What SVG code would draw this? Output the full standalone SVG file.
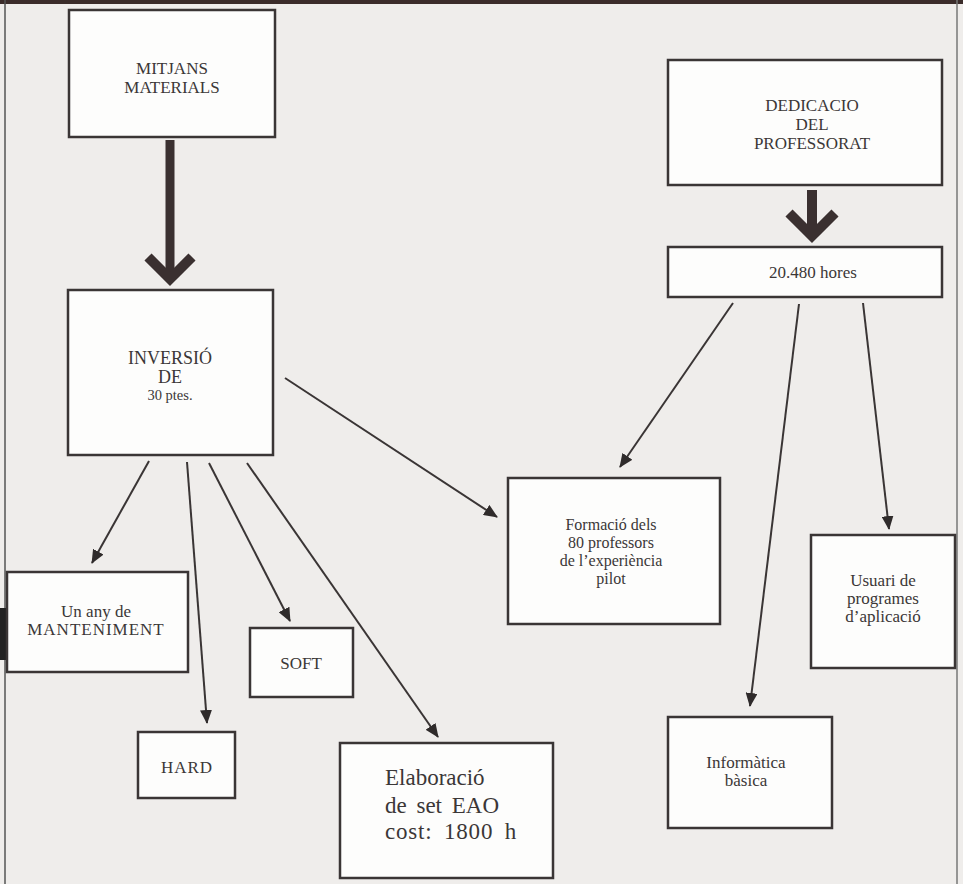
<svg xmlns="http://www.w3.org/2000/svg" width="963" height="884" viewBox="0 0 963 884">
<defs>
<marker id="ah" markerUnits="userSpaceOnUse" markerWidth="14" markerHeight="12" refX="13" refY="6" orient="auto">
<path d="M0,0 L14,6 L0,12 Z" fill="#2f2b2b"/>
</marker>
</defs>
<style>
.box{fill:#fdfdfc;stroke:#3a3535;stroke-width:2.5}
.t{font-family:"Liberation Serif","DejaVu Serif",serif;fill:#3b3737;text-anchor:middle}
.conn line{stroke:#3a3535;stroke-width:2;marker-end:url(#ah)}
.thick{stroke:#3a3030;fill:none;stroke-linejoin:miter;stroke-miterlimit:10}
</style>
<rect x="0" y="0" width="963" height="884" fill="#efedeb"/>
<rect x="0" y="0" width="963" height="4" fill="#3b2c2a"/>
<line x1="5" y1="0" x2="5" y2="884" stroke="#555" stroke-width="1.5"/>
<line x1="957" y1="0" x2="957" y2="884" stroke="#777" stroke-width="1.5"/>
<rect x="0" y="608" width="6" height="52" fill="#222"/>

<g id="mitjans">
<rect class="box" x="69" y="10" width="206" height="127"/>
<text class="t" font-size="17" x="172" y="74">MITJANS</text>
<text class="t" font-size="17" x="172" y="93">MATERIALS</text>
</g>

<g id="inversio">
<rect class="box" x="68" y="290" width="205" height="165"/>
<text class="t" font-size="18" x="170" y="364">INVERSIÓ</text>
<text class="t" font-size="18" x="170" y="383">DE</text>
<text class="t" font-size="14.5" x="170" y="400">30 ptes.</text>
</g>

<g id="dedicacio">
<rect class="box" x="668" y="60" width="274" height="125"/>
<text class="t" font-size="17" x="812" y="111">DEDICACIO</text>
<text class="t" font-size="17" x="812" y="130">DEL</text>
<text class="t" font-size="17" x="812" y="149">PROFESSORAT</text>
</g>

<g id="hores">
<rect class="box" x="668" y="247" width="274" height="50"/>
<text class="t" font-size="17" x="813" y="278">20.480 hores</text>
</g>

<g id="formacio">
<rect class="box" x="508" y="478" width="212" height="146"/>
<text class="t" font-size="16" x="611" y="530">Formació dels</text>
<text class="t" font-size="16" x="611" y="548">80 professors</text>
<text class="t" font-size="16" x="611" y="566">de l’experiència</text>
<text class="t" font-size="16" x="611" y="584">pilot</text>
</g>

<g id="manteniment">
<rect class="box" x="7" y="572" width="181" height="100"/>
<text class="t" font-size="17" x="96" y="617">Un any de</text>
<text class="t" font-size="17" letter-spacing="1" x="96" y="635">MANTENIMENT</text>
</g>

<g id="soft">
<rect class="box" x="250" y="628" width="103" height="69"/>
<text class="t" font-size="17" x="301" y="669">SOFT</text>
</g>

<g id="hard">
<rect class="box" x="138" y="732" width="97" height="66"/>
<text class="t" font-size="17" letter-spacing="1" x="187" y="773">HARD</text>
</g>

<g id="elaboracio">
<rect class="box" x="340" y="743" width="213" height="135"/>
<text class="t" font-size="23" style="text-anchor:start" x="385" y="785">Elaboració</text>
<text class="t" font-size="23" style="text-anchor:start" word-spacing="4" x="385" y="813">de set EAO</text>
<text class="t" font-size="23" style="text-anchor:start" word-spacing="5" letter-spacing="0.8" x="385" y="839">cost: 1800 h</text>
</g>

<g id="usuari">
<rect class="box" x="811" y="535" width="144" height="133"/>
<text class="t" font-size="17" x="883" y="586">Usuari de</text>
<text class="t" font-size="17" x="883" y="604">programes</text>
<text class="t" font-size="17" x="883" y="622">d’aplicació</text>
</g>

<g id="informatica">
<rect class="box" x="668" y="717" width="164" height="111"/>
<text class="t" font-size="17" x="746" y="768">Informàtica</text>
<text class="t" font-size="17" x="746" y="786">bàsica</text>
</g>

<g id="connectors">
<g class="thick-arrows">
<line class="thick" x1="170" y1="140" x2="170" y2="276" stroke-width="9"/>
<polyline class="thick" points="148,257 170,279 192,257" stroke-width="10"/>
<line class="thick" x1="812" y1="190" x2="812" y2="232" stroke-width="10"/>
<polyline class="thick" points="789,213 812,236 835,213" stroke-width="10"/>
</g>
<g class="conn">
<line x1="285" y1="378" x2="497" y2="517"/>
<line x1="149" y1="461" x2="92" y2="563"/>
<line x1="187" y1="462" x2="207" y2="723"/>
<line x1="209" y1="463" x2="290" y2="621"/>
<line x1="247" y1="463" x2="438" y2="737"/>
<line x1="733" y1="303" x2="620" y2="467"/>
<line x1="799" y1="304" x2="750" y2="706"/>
<line x1="863" y1="303" x2="889" y2="529"/>
</g>
</g>
</svg>
